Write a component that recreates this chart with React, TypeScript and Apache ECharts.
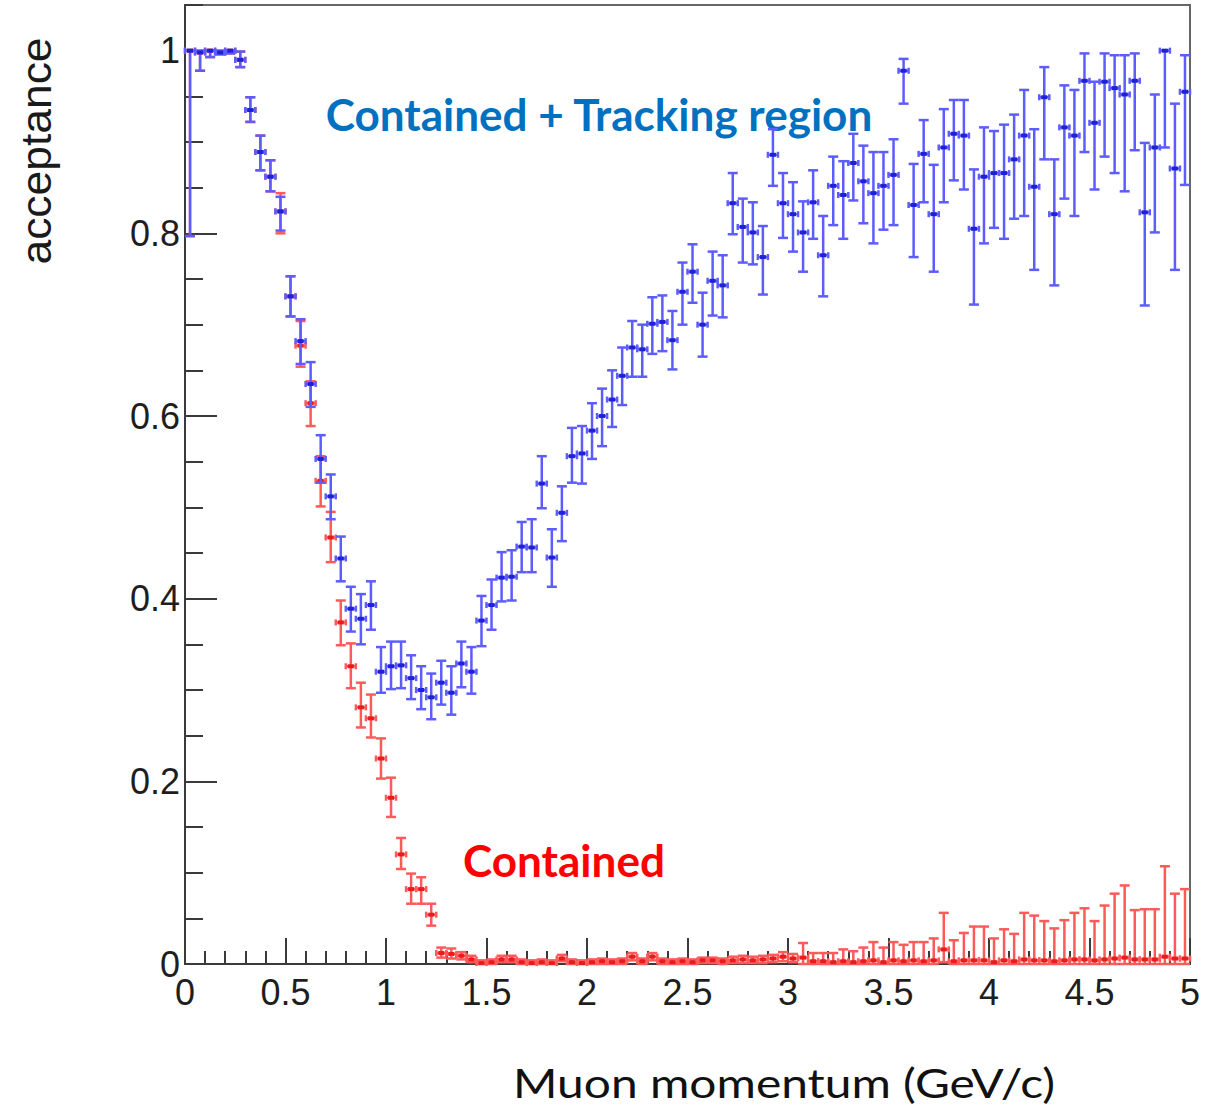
import React, { useEffect, useRef } from "react";
import * as echarts from "echarts";

// Histogram binning: 100 bins of 0.05 GeV/c from 0 to 5 GeV/c
const BIN_WIDTH = 0.05;
const binCenters = Array.from({ length: 100 }, (_, i) => +((i + 0.5) * BIN_WIDTH).toFixed(3));

// Contained + Tracking region acceptance (value, lower and upper error-bar ends)
const trackValue = [
  1.0, 0.998, 1.0, 0.998, 1.0, 0.99, 0.935, 0.889, 0.862, 0.824,
  0.731, 0.682, 0.635, 0.553, 0.512, 0.444, 0.389, 0.378, 0.393, 0.32,
  0.326, 0.327, 0.313, 0.3, 0.292, 0.308, 0.297, 0.329, 0.32, 0.376,
  0.393, 0.423, 0.424, 0.457, 0.456, 0.526, 0.445, 0.494, 0.556, 0.559,
  0.584, 0.6, 0.618, 0.644, 0.675, 0.673, 0.701, 0.703, 0.683, 0.736,
  0.758, 0.7, 0.748, 0.743, 0.833, 0.807, 0.801, 0.774, 0.886, 0.833,
  0.821, 0.801, 0.834, 0.776, 0.852, 0.842, 0.877, 0.857, 0.844, 0.852,
  0.864, 0.978, 0.831, 0.887, 0.821, 0.894, 0.909, 0.907, 0.805, 0.862,
  0.866, 0.866, 0.881, 0.907, 0.851, 0.949, 0.821, 0.916, 0.907, 0.967,
  0.921, 0.966, 0.959, 0.952, 0.967, 0.823, 0.894, 1.0, 0.871, 0.955,
];
const trackLower = [
  0.797, 0.978, 0.993, 0.996, 0.997, 0.982, 0.922, 0.869, 0.846, 0.803,
  0.709, 0.657, 0.61, 0.527, 0.487, 0.419, 0.364, 0.35, 0.366, 0.297,
  0.301, 0.302, 0.29, 0.279, 0.268, 0.284, 0.273, 0.303, 0.296, 0.348,
  0.366, 0.397, 0.398, 0.429, 0.429, 0.499, 0.413, 0.463, 0.527, 0.526,
  0.553, 0.567, 0.588, 0.612, 0.643, 0.643, 0.668, 0.671, 0.651, 0.7,
  0.724, 0.665, 0.71, 0.708, 0.799, 0.768, 0.766, 0.733, 0.852, 0.795,
  0.78, 0.758, 0.794, 0.731, 0.809, 0.794, 0.836, 0.811, 0.789, 0.804,
  0.809, 0.942, 0.774, 0.834, 0.758, 0.834, 0.858, 0.848, 0.722, 0.789,
  0.806, 0.794, 0.816, 0.819, 0.76, 0.881, 0.743, 0.838, 0.819, 0.889,
  0.848, 0.884, 0.866, 0.846, 0.891, 0.721, 0.801, 0.894, 0.76, 0.853,
];
const trackUpper = [
  1.0, 1.0, 1.0, 1.0, 1.0, 0.999, 0.949, 0.907, 0.88, 0.84,
  0.753, 0.706, 0.659, 0.579, 0.536, 0.468, 0.413, 0.405, 0.419, 0.347,
  0.353, 0.353, 0.338, 0.326, 0.318, 0.332, 0.326, 0.353, 0.347, 0.403,
  0.421, 0.451, 0.453, 0.484, 0.487, 0.556, 0.476, 0.523, 0.587, 0.589,
  0.614, 0.63, 0.65, 0.675, 0.704, 0.7, 0.73, 0.732, 0.715, 0.768,
  0.788, 0.735, 0.78, 0.776, 0.866, 0.838, 0.834, 0.808, 0.914, 0.866,
  0.856, 0.835, 0.869, 0.819, 0.884, 0.879, 0.909, 0.896, 0.889, 0.889,
  0.903, 0.991, 0.876, 0.924, 0.875, 0.936, 0.946, 0.946, 0.87, 0.916,
  0.912, 0.919, 0.93, 0.957, 0.914, 0.982, 0.881, 0.962, 0.957, 0.997,
  0.966, 0.997, 0.995, 0.995, 0.997, 0.899, 0.952, 1.0, 0.942, 0.995,
];

// Contained-only acceptance
const containedValue = [
  1.0, 0.998, 1.0, 0.998, 1.0, 0.99, 0.935, 0.889, 0.862, 0.824,
  0.731, 0.677, 0.614, 0.529, 0.467, 0.374, 0.326, 0.281, 0.269, 0.225,
  0.182, 0.12, 0.082, 0.082, 0.054, 0.012, 0.011, 0.009, 0.005, 0.001,
  0.002, 0.005, 0.005, 0.002, 0.001, 0.002, 0.001, 0.006, 0.002, 0.001,
  0.002, 0.003, 0.002, 0.003, 0.008, 0.003, 0.008, 0.003, 0.002, 0.003,
  0.002, 0.004, 0.004, 0.003, 0.004, 0.005, 0.004, 0.005, 0.006, 0.008,
  0.006, 0.007, 0.003, 0.003, 0.002, 0.003, 0.002, 0.003, 0.004, 0.002,
  0.004, 0.003, 0.004, 0.003, 0.004, 0.016, 0.003, 0.004, 0.004, 0.004,
  0.002, 0.004, 0.003, 0.005, 0.004, 0.004, 0.003, 0.004, 0.005, 0.005,
  0.004, 0.005, 0.006, 0.007, 0.005, 0.005, 0.005, 0.008, 0.006, 0.006,
];
const containedLower = [
  0.797, 0.978, 0.993, 0.996, 0.997, 0.982, 0.922, 0.869, 0.846, 0.8,
  0.709, 0.654, 0.589, 0.501, 0.44, 0.349, 0.302, 0.259, 0.248, 0.203,
  0.161, 0.104, 0.066, 0.066, 0.042, 0.007, 0.006, 0.005, 0.002, 0.0,
  0.0, 0.002, 0.002, 0.0, 0.0, 0.0, 0.0, 0.003, 0.0, 0.0,
  0.0, 0.0, 0.0, 0.0, 0.004, 0.0, 0.004, 0.0, 0.0, 0.0,
  0.0, 0.001, 0.001, 0.0, 0.001, 0.001, 0.001, 0.001, 0.002, 0.003,
  0.002, 0.0, 0.0, 0.0, 0.0, 0.0, 0.0, 0.0, 0.0, 0.0,
  0.0, 0.0, 0.0, 0.0, 0.0, 0.002, 0.0, 0.0, 0.0, 0.0,
  0.0, 0.0, 0.0, 0.0, 0.0, 0.0, 0.0, 0.0, 0.0, 0.0,
  0.0, 0.0, 0.0, 0.0, 0.0, 0.0, 0.0, 0.0, 0.0, 0.0,
];
const containedUpper = [
  1.0, 1.0, 1.0, 1.0, 1.0, 0.999, 0.949, 0.907, 0.88, 0.844,
  0.753, 0.704, 0.638, 0.556, 0.495, 0.398, 0.351, 0.308, 0.295, 0.247,
  0.204, 0.138, 0.099, 0.095, 0.066, 0.018, 0.017, 0.013, 0.009, 0.004,
  0.005, 0.009, 0.009, 0.005, 0.004, 0.005, 0.004, 0.01, 0.005, 0.004,
  0.005, 0.006, 0.005, 0.006, 0.012, 0.006, 0.012, 0.006, 0.005, 0.006,
  0.005, 0.007, 0.007, 0.006, 0.008, 0.009, 0.008, 0.009, 0.01, 0.013,
  0.011, 0.023, 0.012, 0.012, 0.012, 0.016, 0.014, 0.018, 0.024, 0.018,
  0.024, 0.021, 0.024, 0.024, 0.028, 0.056, 0.026, 0.034, 0.041, 0.041,
  0.028, 0.038, 0.033, 0.056, 0.053, 0.047, 0.039, 0.048, 0.056, 0.061,
  0.047, 0.064, 0.077, 0.086, 0.059, 0.06, 0.06, 0.107, 0.077, 0.082,
];

const X_TITLE = "Muon momentum (GeV/c)";
const Y_TITLE = "acceptance";
const TRACK_LABEL = "Contained + Tracking region";
const CONTAINED_LABEL = "Contained";

const AXIS_COLOR = "#3a3a3a";
const TICK_FONT = '"Liberation Sans", Arial, sans-serif';

function textWidth(text: string, font: string): number {
  const ctx = document.createElement("canvas").getContext("2d");
  if (!ctx) return 1;
  ctx.font = font;
  return ctx.measureText(text).width || 1;
}

function fittedText(
  text: string,
  family: string,
  size: number,
  weight: string,
  targetWidth: number,
  x: number,
  y: number,
  color: string,
  rotation = 0
) {
  const font = `${weight} ${size}px ${family}`;
  const sx = targetWidth / textWidth(text, font);
  return {
    type: "text",
    x,
    y,
    rotation,
    scaleX: sx,
    scaleY: 1,
    style: {
      text,
      font,
      fill: color,
      align: "center",
      verticalAlign: "middle",
    },
  };
}

function buildRows(values: number[], lower: number[], upper: number[]) {
  return binCenters.map((x, i) => [x, values[i], lower[i], upper[i]]);
}

function errorBarSeries(name: string, rows: number[][], stroke: string, core: string, z: number) {
  return {
    type: "custom",
    name,
    data: rows,
    z,
    clip: false,
    encode: { x: 0, y: [1, 2, 3] },
    renderItem: (_params: any, api: any) => {
      const x = api.value(0);
      const v = api.value(1);
      const lo = api.value(2);
      const hi = api.value(3);
      const [cx, cy] = api.coord([x, v]);
      const yl = api.coord([x, lo])[1];
      const yh = api.coord([x, hi])[1];
      const xl = api.coord([x - BIN_WIDTH / 2, v])[0];
      const xr = api.coord([x + BIN_WIDTH / 2, v])[0];
      const cap = 5;
      const hcap = 3;
      const st = { stroke, lineWidth: 2.5 };
      return {
        type: "group",
        children: [
          { type: "line", shape: { x1: cx, y1: yh, x2: cx, y2: yl }, style: st },
          { type: "line", shape: { x1: cx - cap, y1: yh, x2: cx + cap, y2: yh }, style: st },
          { type: "line", shape: { x1: cx - cap, y1: yl, x2: cx + cap, y2: yl }, style: st },
          { type: "line", shape: { x1: xl, y1: cy, x2: xr, y2: cy }, style: st },
          { type: "line", shape: { x1: xl, y1: cy - hcap, x2: xl, y2: cy + hcap }, style: st },
          { type: "line", shape: { x1: xr, y1: cy - hcap, x2: xr, y2: cy + hcap }, style: st },
          { type: "rect", shape: { x: cx - 3, y: cy - 2, width: 6, height: 4 }, style: { fill: core } },
        ],
      };
    },
  };
}

export default function App() {
  const ref = useRef<HTMLDivElement>(null);

  useEffect(() => {
    if (!ref.current) return;
    const chart = echarts.init(ref.current, undefined, { renderer: "svg" });

    const tickLine = { color: AXIS_COLOR, width: 2 };
    const tickLabel = {
      fontSize: 36,
      fontFamily: TICK_FONT,
      color: "#1e1e1e",
    };

    chart.setOption({
      animation: false,
      backgroundColor: "#ffffff",
      grid: {
        left: 185,
        top: 5,
        right: 21,
        bottom: 144,
        show: true,
        borderColor: "#666666",
        borderWidth: 2,
        backgroundColor: "transparent",
      },
      xAxis: {
        type: "value",
        min: 0,
        max: 5,
        interval: 0.5,
        axisLine: { show: true, onZero: false, lineStyle: tickLine },
        axisTick: { show: true, inside: true, length: 26, lineStyle: tickLine },
        minorTick: { show: true, splitNumber: 5, length: 13, lineStyle: tickLine },
        splitLine: { show: false },
        minorSplitLine: { show: false },
        axisLabel: { ...tickLabel, margin: 10, formatter: (v: number) => String(v) },
      },
      yAxis: [
        {
          type: "value",
          min: 0,
          max: 1.05,
          interval: 0.2,
          axisLine: { show: true, onZero: false, lineStyle: tickLine },
          axisTick: { show: true, inside: true, length: 32, lineStyle: tickLine },
          splitLine: { show: false },
          axisLabel: {
            ...tickLabel,
            margin: 5,
            showMaxLabel: false,
            formatter: (v: number) => String(+v.toFixed(2)),
          },
        },
        {
          type: "value",
          position: "left",
          min: 0,
          max: 1.05,
          interval: 0.05,
          axisLine: { show: false },
          axisTick: { show: true, inside: true, length: 18, lineStyle: tickLine },
          splitLine: { show: false },
          axisLabel: { show: false },
        },
      ],
      series: [
        errorBarSeries(
          "Contained",
          buildRows(containedValue, containedLower, containedUpper),
          "#ff5a5a",
          "#e81c1c",
          2
        ),
        errorBarSeries(
          "Contained + Tracking region",
          buildRows(trackValue, trackLower, trackUpper),
          "#5c5cff",
          "#2020d8",
          3
        ),
      ],
      graphic: [
        fittedText(Y_TITLE, '"Liberation Sans"', 42, "normal", 227, 36, 151, "#1a1a1a", Math.PI / 2),
        fittedText(X_TITLE, "Lato", 40, "normal", 542, 784, 1082, "#111111"),
        fittedText(TRACK_LABEL, "Lato", 44, "bold", 548, 599, 114, "#0070C0"),
        fittedText(CONTAINED_LABEL, "Lato", 44, "bold", 202, 564, 860, "#FF0000"),
      ],
    });

    return () => chart.dispose();
  }, []);

  return (
    <div
      ref={ref}
      style={{ position: "fixed", left: 0, top: 0, width: 1211, height: 1108, background: "#fff" }}
    />
  );
}
